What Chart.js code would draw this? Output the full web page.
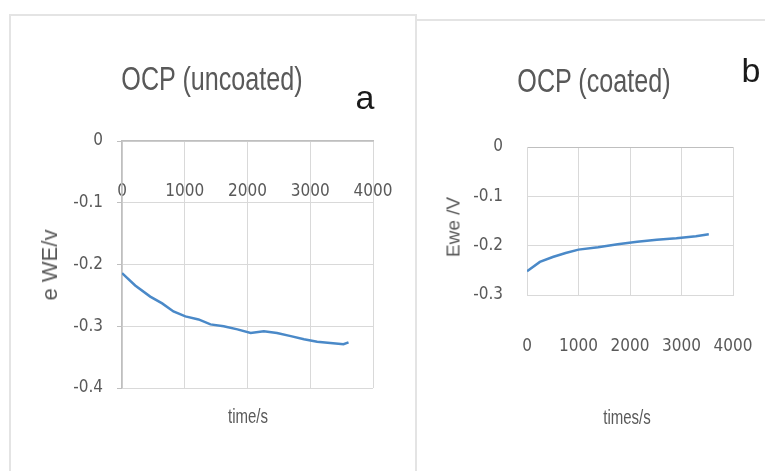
<!DOCTYPE html>
<html>
<head>
<meta charset="utf-8">
<script src="https://cdn.jsdelivr.net/npm/chart.js@4.4.1/dist/chart.umd.min.js"></script>
<style>
  html, body { margin: 0; padding: 0; background: #fff; }
  body { width: 765px; height: 471px; position: relative; overflow: hidden;
         font-family: 'Liberation Sans', Arial, sans-serif; }
  .panel { position: absolute; border: 2px solid #e4e4e4; box-sizing: border-box; }
  .txt { position: absolute; white-space: nowrap; color: #595959; line-height: 1; }
  canvas { position: absolute; }
</style>
</head>
<body>
<div class="panel" style="left:9px;top:14px;width:408px;height:480px;"></div>
<div class="panel" style="left:415px;top:19px;width:370px;height:480px;"></div>

<canvas id="chartA" width="405" height="456" style="left:10px;top:15px;"></canvas>
<canvas id="chartB" width="350" height="451" style="left:415px;top:20px;"></canvas>

<div class="txt" style="left:212px;top:78px;font-size:34px;transform:translate(-50%,-50%) scaleX(0.74);">OCP (uncoated)</div>
<div class="txt" style="left:365px;top:97px;font-size:34px;color:#1a1a1a;transform:translate(-50%,-50%);">a</div>
<div class="txt" style="left:50px;top:265px;font-size:22px;transform:translate(-50%,-50%) rotate(-90deg);">e WE/v</div>
<div class="txt" style="left:248px;top:416px;font-size:20px;transform:translate(-50%,-50%) scaleX(0.75);">time/s</div>

<div class="txt" style="left:594px;top:80px;font-size:34px;transform:translate(-50%,-50%) scaleX(0.74);">OCP (coated)</div>
<div class="txt" style="left:751px;top:70px;font-size:34px;color:#1a1a1a;transform:translate(-50%,-50%);">b</div>
<div class="txt" style="left:453px;top:227px;font-size:19px;transform:translate(-50%,-50%) rotate(-90deg);">Ewe /V</div>
<div class="txt" style="left:627px;top:417px;font-size:20px;transform:translate(-50%,-50%) scaleX(0.75);">times/s</div>

<script>
// OCP, uncoated sample (a)
const timeA = [0, 210, 450, 640, 820, 1010, 1220, 1410, 1620, 1840, 2050, 2260, 2470, 2690, 2900, 3110, 3320, 3530, 3610];
const eweA = [-0.214, -0.234, -0.252, -0.263, -0.276, -0.284, -0.289, -0.297, -0.300, -0.305, -0.311, -0.308, -0.311, -0.316, -0.321, -0.325, -0.327, -0.329, -0.326];

// OCP, coated sample (b)
const timeB = [0, 250, 500, 750, 1000, 1380, 1760, 2140, 2520, 2900, 3280, 3530];
const eweB = [-0.252, -0.233, -0.223, -0.215, -0.208, -0.203, -0.197, -0.192, -0.188, -0.185, -0.181, -0.177];

const xTicks = [0, 1000, 2000, 3000, 4000];

const GRID = '#d9d9d9';
const AXIS = '#bfbfbf';
const TEXT = '#595959';
const LINE = '#4a89c8';
const tickFont = { family: "'Liberation Sans Narrow', 'DejaVu Sans Condensed', 'Liberation Sans', sans-serif", size: 17 };

function toPoints(xs, ys) {
  return xs.map((x, i) => ({ x: x, y: ys[i] }));
}

function series(xs, ys) {
  return {
    data: toPoints(xs, ys),
    borderColor: LINE,
    borderWidth: 2.5,
    pointRadius: 0,
    tension: 0,
    fill: false,
  };
}

// tick padding would otherwise be added to the side padding of the x axis
function noSidePadding(scale) {
  scale.paddingLeft = 0;
  scale.paddingRight = 0;
}

const common = {
  responsive: false,
  animation: false,
  plugins: { legend: { display: false }, tooltip: { enabled: false }, title: { display: false } },
};

new Chart(document.getElementById('chartA'), {
  type: 'line',
  data: { datasets: [series(timeA, eweA)] },
  options: {
    ...common,
    layout: { padding: { left: 0, right: 42, top: 126, bottom: 83 } },
    scales: {
      x: {
        type: 'linear',
        position: { y: 0 },
        min: 0,
        max: 4000,
        afterBuildTicks: (scale) => { scale.ticks = xTicks.map((v) => ({ value: v })); },
        afterFit: noSidePadding,
        grid: { color: GRID, drawTicks: false },
        border: { color: AXIS, width: 1.5 },
        ticks: { color: TEXT, font: tickFont, padding: 40, maxRotation: 0, autoSkip: false,
                 callback: (v) => String(v) },
      },
      y: {
        min: -0.4,
        max: 0,
        afterFit: (scale) => { scale.width = 112; },
        grid: { color: GRID, tickColor: AXIS, tickLength: 5 },
        border: { color: AXIS, width: 1.5 },
        ticks: { stepSize: 0.1, color: TEXT, font: tickFont, padding: 14 },
      },
    },
  },
});

new Chart(document.getElementById('chartB'), {
  type: 'line',
  data: { datasets: [series(timeB, eweB)] },
  options: {
    ...common,
    layout: { padding: { left: 0, right: 32, top: 127, bottom: 96 } },
    scales: {
      x: {
        type: 'linear',
        min: 0,
        max: 4000,
        afterBuildTicks: (scale) => { scale.ticks = xTicks.map((v) => ({ value: v })); },
        afterFit: (scale) => { noSidePadding(scale); scale.height = 80; },
        grid: { color: GRID, drawTicks: false },
        border: { color: GRID },
        ticks: { color: TEXT, font: tickFont, padding: 41, maxRotation: 0, autoSkip: false,
                 callback: (v) => String(v) },
      },
      y: {
        min: -0.3,
        max: 0,
        afterFit: (scale) => { scale.width = 112; },
        grid: { color: (ctx) => (ctx.tick && ctx.tick.value === 0 ? AXIS : GRID), drawTicks: false },
        border: { color: GRID },
        ticks: { stepSize: 0.1, color: TEXT, font: tickFont, padding: 24 },
      },
    },
  },
});
</script>
</body>
</html>
